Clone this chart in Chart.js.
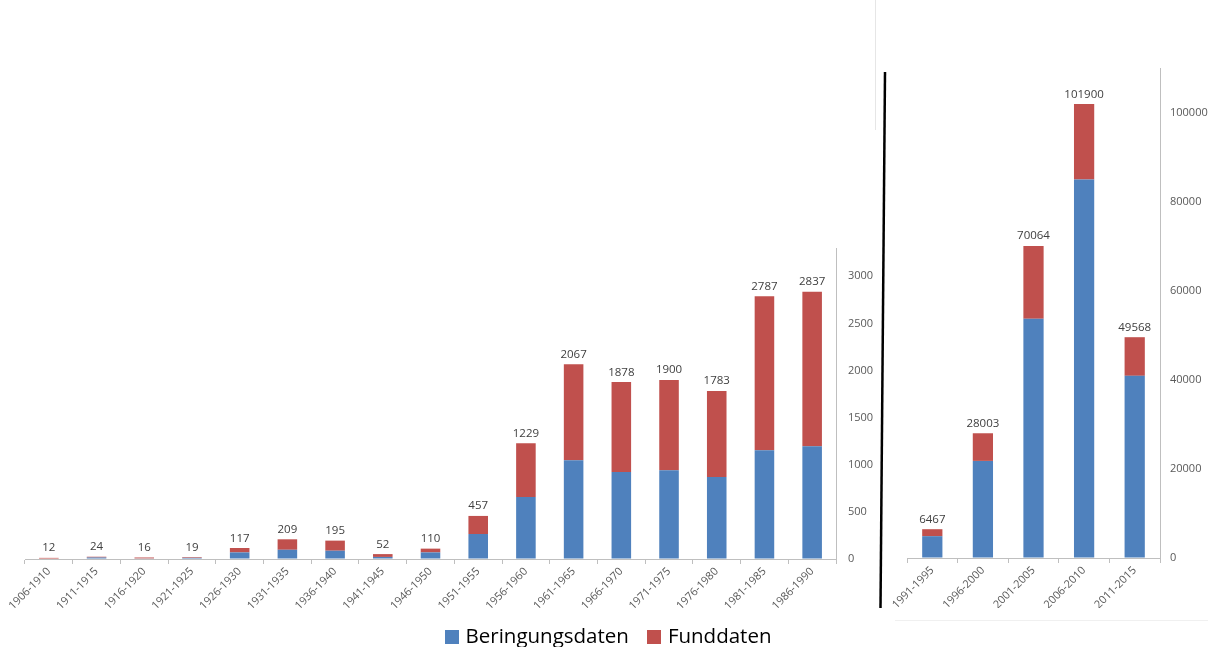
<!DOCTYPE html>
<html>
<head>
<meta charset="utf-8">
<script src="https://cdn.jsdelivr.net/npm/chart.js@4.4.1/dist/chart.umd.min.js"></script>
<style>
  body { margin: 0; background: #fff; width: 1208px; height: 647px; overflow: hidden; position: relative; font-family: "Open Sans", sans-serif; }
  #wrapLeft { position: absolute; left: 0; top: 0; width: 880px; height: 610px; }
  #wrapRight { position: absolute; left: 880px; top: 0; width: 328px; height: 608px; }
  #deco { position: absolute; left: 0; top: 0; pointer-events: none; }
  #legend { position: absolute; left: 0; width: 1208px; top: 621px; text-align: center; font-size: 20.5px; color: #000; padding-left: 8px; box-sizing: border-box; }
  #legend span.item { margin: 0 9px; white-space: nowrap; }
  #legend span.box { display: inline-block; width: 14px; height: 14px; margin-right: 7px; vertical-align: -1px; }
</style>
</head>
<body>
<div id="wrapLeft"><canvas id="left"></canvas></div>
<div id="wrapRight"><canvas id="right"></canvas></div>
<svg id="deco" width="1208" height="647">
  <line x1="875.5" y1="0" x2="875.5" y2="130" stroke="#e6e6e6" stroke-width="1"/>
  <line x1="895" y1="620.5" x2="1208" y2="620.5" stroke="#f0f0f0" stroke-width="1"/>
  <line x1="885" y1="72" x2="880.5" y2="608" stroke="#000" stroke-width="2.5"/>
</svg>
<div id="legend"></div>

<script>
const SERIES = ['Beringungsdaten', 'Funddaten'];
const COLORS = ['#4F81BD', '#C0504D'];

const periodsEarly = [
    '1906-1910', '1911-1915', '1916-1920', '1921-1925', '1926-1930', '1931-1935',
    '1936-1940', '1941-1945', '1946-1950', '1951-1955', '1956-1960', '1961-1965',
    '1966-1970', '1971-1975', '1976-1980', '1981-1985', '1986-1990'
];
const beringEarly = [5, 16, 6, 12, 70, 98, 88, 22, 70, 265, 657, 1049, 922, 943, 869, 1155, 1197];
const fundEarly = [7, 8, 10, 7, 47, 111, 107, 30, 40, 192, 572, 1018, 956, 957, 914, 1632, 1640];
const ticksEarly = [0, 500, 1000, 1500, 2000, 2500, 3000];

const periodsLate = ['1991-1995', '1996-2000', '2001-2005', '2006-2010', '2011-2015'];
const beringLate = [4900, 21800, 53700, 84950, 40900];
const fundLate = [1567, 6203, 16364, 16950, 8668];
const ticksLate = [0, 20000, 40000, 60000, 80000, 100000];

const AXIS_GREY = '#BFBFBF';
const TICK_COLOR = '#595959';

// totals above each stacked column
const totalsPlugin = {
    id: 'totals',
    afterDatasetsDraw(chart) {
        const ctx = chart.ctx;
        const sets = chart.data.datasets;
        const top = chart.getDatasetMeta(sets.length - 1);
        ctx.save();
        ctx.font = '11.5px "Open Sans", sans-serif';
        ctx.fillStyle = '#404040';
        ctx.textAlign = 'center';
        ctx.textBaseline = 'bottom';
        top.data.forEach(function (bar, i) {
            let sum = 0;
            sets.forEach(function (ds) { sum += ds.data[i]; });
            ctx.fillText(String(sum), bar.x, bar.y - 4);
        });
        ctx.restore();
    }
};

function makeChart(id, labels, bering, fund, tickValues, opts) {
    return new Chart(document.getElementById(id), {
        type: 'bar',
        data: {
            labels: labels,
            datasets: [
                { label: SERIES[0], data: bering, backgroundColor: COLORS[0] },
                { label: SERIES[1], data: fund, backgroundColor: COLORS[1] }
            ]
        },
        options: {
            responsive: true,
            maintainAspectRatio: false,
            animation: false,
            categoryPercentage: 1,
            barPercentage: opts.barPct,
            layout: { padding: { left: opts.padLeft, top: opts.padTop, right: 0, bottom: 0 } },
            plugins: {
                legend: { display: false },
                tooltip: { enabled: false }
            },
            scales: {
                x: {
                    stacked: true,
                    grid: { display: true, drawOnChartArea: false, drawTicks: true, tickLength: 5, color: AXIS_GREY },
                    border: { display: true, color: AXIS_GREY },
                    ticks: {
                        autoSkip: false, maxRotation: 45, minRotation: 45, padding: 1,
                        color: TICK_COLOR, font: { family: '"Open Sans", sans-serif', size: 11 }
                    },
                    afterFit(scale) { scale.height = opts.xHeight; }
                },
                y: {
                    stacked: true,
                    position: 'right',
                    min: 0,
                    max: opts.max,
                    grid: { display: true, drawOnChartArea: false, drawTicks: false },
                    border: { display: true, color: AXIS_GREY },
                    ticks: {
                        padding: opts.tickPad, autoSkip: false,
                        color: TICK_COLOR, font: { family: '"Open Sans", sans-serif', size: 11 },
                        callback: function (v) { return String(v); }
                    },
                    afterBuildTicks(scale) {
                        scale.ticks = tickValues.map(function (v) { return { value: v }; });
                    },
                    afterFit(scale) { scale.width = opts.yWidth; }
                }
            }
        },
        plugins: [totalsPlugin]
    });
}

makeChart('left', periodsEarly, beringEarly, fundEarly, ticksEarly, {
    barPct: 0.41, padLeft: 25, padTop: 248, xHeight: 51, yWidth: 44, max: 3300, tickPad: 12
});
makeChart('right', periodsLate, beringLate, fundLate, ticksLate, {
    barPct: 0.4, padLeft: 27, padTop: 68, xHeight: 50, yWidth: 48, max: 110000, tickPad: 10
});

// legend
const legend = document.getElementById('legend');
SERIES.forEach(function (name, i) {
    const item = document.createElement('span');
    item.className = 'item';
    const box = document.createElement('span');
    box.className = 'box';
    box.style.background = COLORS[i];
    item.appendChild(box);
    item.appendChild(document.createTextNode(name));
    legend.appendChild(item);
});
</script>
</body>
</html>
